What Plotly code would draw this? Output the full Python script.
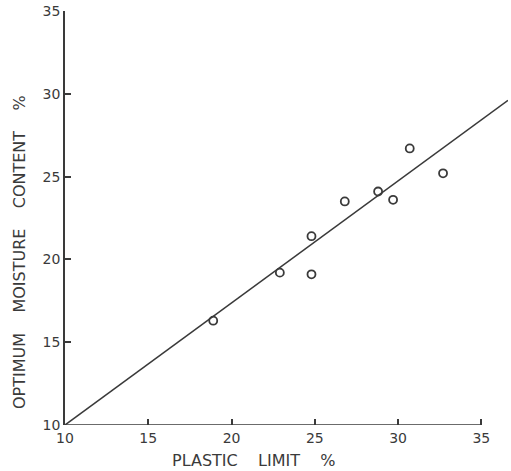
import plotly.graph_objects as go

# Data
plastic_limit = [18.9, 22.9, 24.8, 24.8, 26.8, 28.8, 29.7, 30.7, 32.7]
moisture_content = [16.3, 19.2, 21.4, 19.1, 23.5, 24.1, 23.6, 26.7, 25.2]
fit_x = [10, 36.6]
fit_y = [10, 29.6]
x_ticks = [10, 15, 20, 25, 30, 35]
y_ticks = [10, 15, 20, 25, 30, 35]

ink = "#3a3a3a"
font = dict(family="DejaVu Sans, Liberation Sans, sans-serif", size=14, color=ink)
label_font = dict(family="DejaVu Sans, Liberation Sans, sans-serif", size=16, color=ink)

fig = go.Figure()
fig.add_trace(go.Scatter(x=fit_x, y=fit_y, mode="lines",
                         line=dict(color=ink, width=1.5), showlegend=False,
                         cliponaxis=False))
fig.add_trace(go.Scatter(x=plastic_limit, y=moisture_content, mode="markers",
                         marker=dict(symbol="circle-open", size=8, color=ink,
                                     line=dict(width=1.8, color=ink)),
                         showlegend=False))

# x-axis line only from 10 to 35
fig.add_shape(type="line", x0=10, x1=35, y0=10, y1=10, xref="x", yref="y",
              line=dict(color=ink, width=1.6))

L, R, T, B = 65, 3, 11, 46
W, H = 511, 471
plot_w = W - L - R
plot_h = H - T - B

def px_to_paper_x(px):
    return (px - L) / plot_w

def px_to_paper_y(py):
    return (H - B - py) / plot_h

sp = "\u00a0"
fig.update_layout(
    width=W, height=H,
    margin=dict(l=L, r=R, t=T, b=B),
    paper_bgcolor="white", plot_bgcolor="white",
    font=font,
    xaxis=dict(range=[10, 36.6], tickvals=x_ticks, ticktext=[str(v) for v in x_ticks],
               showgrid=False, zeroline=False, showline=False,
               ticks="inside", ticklen=6, tickwidth=1.5, tickcolor=ink,
               ticklabelstandoff=3, tickfont=font),
    yaxis=dict(range=[10, 35], tickvals=y_ticks, ticktext=[str(v) for v in y_ticks],
               showgrid=False, zeroline=False, showline=True, linecolor=ink, linewidth=1.6,
               ticks="inside", ticklen=6, tickwidth=1.5, tickcolor=ink,
               tickfont=font),
    annotations=[
        dict(text="PLASTIC" + sp * 4 + "LIMIT" + sp * 4 + "%",
             x=px_to_paper_x(254), y=px_to_paper_y(460),
             xanchor="center", yanchor="middle",
             xref="paper", yref="paper", showarrow=False, font=label_font),
        dict(text="OPTIMUM" + sp * 4 + "MOISTURE" + sp * 4 + "CONTENT" + sp * 4 + "%",
             x=px_to_paper_x(20), y=px_to_paper_y(252),
             xanchor="center", yanchor="middle",
             xref="paper", yref="paper", showarrow=False, font=label_font,
             textangle=-90),
    ],
)

fig.write_html("out.html")
